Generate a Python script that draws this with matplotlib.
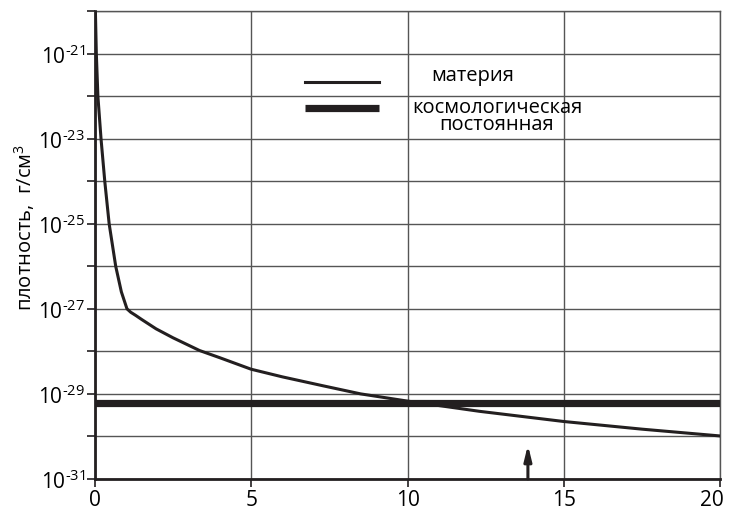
import matplotlib.pyplot as plt
from matplotlib.ticker import FixedLocator, NullLocator
from matplotlib.transforms import ScaledTranslation

plt.rcParams['font.family'] = ['Open Sans', 'DejaVu Sans']
plt.rcParams['mathtext.fontset'] = 'custom'
plt.rcParams['mathtext.rm'] = 'Open Sans'
plt.rcParams['mathtext.it'] = 'Open Sans'

# Плотность материи (время, млрд лет -> log10 плотности)
t_materia = [0.02, 0.05, 0.1, 0.2, 0.32, 0.46, 0.67, 0.85, 1.03, 1.15, 1.3, 1.5,
             1.96, 2.5, 3.35, 4.0, 5.0, 6.0, 7.3, 8.5, 10.0, 12.3, 15.0, 17.5, 20.0]
log_materia = [-20.0, -21.0, -22.0, -23.0, -24.0, -25.0, -26.0, -26.6, -27.0, -27.08,
               -27.15, -27.25, -27.47, -27.68, -27.98, -28.15, -28.42, -28.6, -28.81,
               -29.0, -29.17, -29.41, -29.65, -29.83, -29.99]

# Космологическая постоянная
t_lambda = [0, 20]
log_lambda = [-29.21, -29.21]

# Стрелка (сегодня)
t_strelka = 13.85
log_strelka_niz = -31.0
log_strelka_verh = -30.2

x_ticks = [0, 5, 10, 15, 20]
y_dekady = list(range(-31, -19))

fig = plt.figure(figsize=(7.29, 5.10), dpi=100)
ax = fig.add_axes([0.130, 0.059, 0.858, 0.917])

ax.set_yscale('log')
ax.set_xlim(0, 20)
ax.set_ylim(1e-31, 1e-20)

ax.plot(t_materia, [10 ** v for v in log_materia], color='#231f20', lw=2.2,
        solid_joinstyle='round', zorder=3)
ax.plot(t_lambda, [10 ** v for v in log_lambda], color='#231f20', lw=5.2,
        solid_capstyle='butt', zorder=3)

ax.annotate('', xy=(t_strelka, 10 ** log_strelka_verh),
            xytext=(t_strelka, 10 ** log_strelka_niz),
            arrowprops=dict(arrowstyle='-|>,head_length=0.9,head_width=0.22',
                            color='#231f20', lw=2.2, shrinkA=0, shrinkB=0),
            zorder=4)

# сетка
ax.xaxis.set_major_locator(FixedLocator(x_ticks))
ax.xaxis.set_minor_locator(NullLocator())
ax.yaxis.set_major_locator(FixedLocator([10 ** e for e in y_dekady]))
ax.yaxis.set_minor_locator(NullLocator())
ax.grid(True, color='#555555', lw=1.0)
ax.set_axisbelow(True)

ax.set_xticklabels([str(v) for v in x_ticks], fontsize=15)
ax.set_yticklabels(['10$^{\\text{%d}}$' % e if e % 2 else '' for e in y_dekady], fontsize=15)
ax.tick_params(axis='both', direction='out', length=6, width=1.2, color='#231f20', pad=1)

# последняя подпись чуть левее, чтобы не обрезалась
lab = ax.get_xticklabels()[-1]
lab.set_transform(lab.get_transform() + ScaledTranslation(-6 / 72, 0, fig.dpi_scale_trans))

for s in ['left', 'bottom']:
    ax.spines[s].set_linewidth(2)
    ax.spines[s].set_color('#231f20')
for s in ['right', 'top']:
    ax.spines[s].set_linewidth(1.0)
    ax.spines[s].set_color('#555555')

ax.set_ylabel('плотность,  г/см$^3$', fontsize=14.5)
ax.yaxis.set_label_coords(-0.093, 0.54)

# легенда
ax.plot([0.336, 0.454], [0.849, 0.849], transform=ax.transAxes, color='#231f20', lw=2.2)
ax.plot([0.336, 0.454], [0.793, 0.793], transform=ax.transAxes, color='#231f20', lw=5.2,
        solid_capstyle='butt')
ax.text(0.604, 0.863, 'материя', transform=ax.transAxes, ha='center', va='center',
        fontsize=14.5)
ax.text(0.643, 0.776, 'космологическая\nпостоянная', transform=ax.transAxes,
        ha='center', va='center', fontsize=14.5, linespacing=0.8)

fig.savefig('out.png', dpi=100)
